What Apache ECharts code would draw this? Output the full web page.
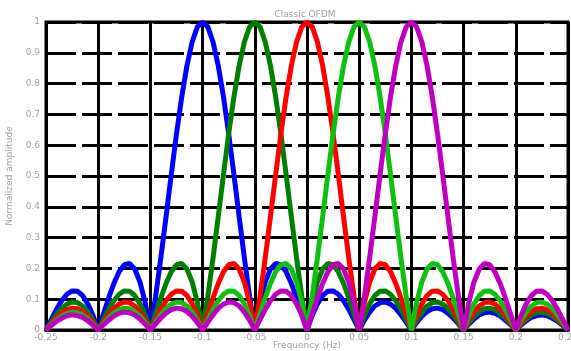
<!DOCTYPE html>
<html>
<head>
<meta charset="utf-8">
<script src="https://cdn.jsdelivr.net/npm/echarts@6/dist/echarts.min.js"></script>
<style>
  html, body { margin: 0; padding: 0; background: #fff; }
  #chart { width: 571px; height: 351px; }
</style>
</head>
<body>
<div id="chart"></div>
<script>
// frequency points, -0.25 .. 0.25 step 0.005
const freqs = [];
for (let i = 0; i <= 100; i++) freqs.push(+(-0.25 + i * 0.005).toFixed(3));

// subcarrier centred at -0.1
const blue = [
  0,0.034,0.067,0.095,0.116,0.127,0.126,0.112,0.085,0.047,
  0,0.052,0.104,0.151,0.189,0.212,0.216,0.198,0.156,0.089,
  0,0.109,0.234,0.368,0.505,0.637,0.757,0.858,0.935,0.984,
  1,
  0.984,0.935,0.858,0.757,0.637,0.505,0.368,0.234,0.109,0,
  0.089,0.156,0.198,0.216,0.212,0.189,0.151,0.104,0.052,0,
  0.047,0.085,0.112,0.126,0.127,0.116,0.095,0.067,0.034,0,
  0.032,0.058,0.078,0.089,0.091,0.084,0.070,0.049,0.025,0,
  0.024,0.045,0.060,0.069,0.071,0.066,0.055,0.039,0.020,0,
  0.019,0.036,0.049,0.056,0.058,0.054,0.045,0.032,0.017,0,
  0.016,0.030,0.041,0.047,0.049,0.046,0.038,0.028,0.014,0
];
// centred at -0.05
const darkGreen = [
  0,0.025,0.049,0.070,0.084,0.091,0.089,0.078,0.058,0.032,
  0,0.034,0.067,0.095,0.116,0.127,0.126,0.112,0.085,0.047,
  0,0.052,0.104,0.151,0.189,0.212,0.216,0.198,0.156,0.089,
  0,0.109,0.234,0.368,0.505,0.637,0.757,0.858,0.935,0.984,
  1,
  0.984,0.935,0.858,0.757,0.637,0.505,0.368,0.234,0.109,0,
  0.089,0.156,0.198,0.216,0.212,0.189,0.151,0.104,0.052,0,
  0.047,0.085,0.112,0.126,0.127,0.116,0.095,0.067,0.034,0,
  0.032,0.058,0.078,0.089,0.091,0.084,0.070,0.049,0.025,0,
  0.024,0.045,0.060,0.069,0.071,0.066,0.055,0.039,0.020,0,
  0.019,0.036,0.049,0.056,0.058,0.054,0.045,0.032,0.017,0
];
// centred at 0
const red = [
  0,0.020,0.039,0.055,0.066,0.071,0.069,0.060,0.045,0.024,
  0,0.025,0.049,0.070,0.084,0.091,0.089,0.078,0.058,0.032,
  0,0.034,0.067,0.095,0.116,0.127,0.126,0.112,0.085,0.047,
  0,0.052,0.104,0.151,0.189,0.212,0.216,0.198,0.156,0.089,
  0,0.109,0.234,0.368,0.505,0.637,0.757,0.858,0.935,0.984,
  1,
  0.984,0.935,0.858,0.757,0.637,0.505,0.368,0.234,0.109,0,
  0.089,0.156,0.198,0.216,0.212,0.189,0.151,0.104,0.052,0,
  0.047,0.085,0.112,0.126,0.127,0.116,0.095,0.067,0.034,0,
  0.032,0.058,0.078,0.089,0.091,0.084,0.070,0.049,0.025,0,
  0.024,0.045,0.060,0.069,0.071,0.066,0.055,0.039,0.020,0
];
// centred at 0.05
const lightGreen = [
  0,0.017,0.032,0.045,0.054,0.058,0.056,0.049,0.036,0.019,
  0,0.020,0.039,0.055,0.066,0.071,0.069,0.060,0.045,0.024,
  0,0.025,0.049,0.070,0.084,0.091,0.089,0.078,0.058,0.032,
  0,0.034,0.067,0.095,0.116,0.127,0.126,0.112,0.085,0.047,
  0,0.052,0.104,0.151,0.189,0.212,0.216,0.198,0.156,0.089,
  0,0.109,0.234,0.368,0.505,0.637,0.757,0.858,0.935,0.984,
  1,
  0.984,0.935,0.858,0.757,0.637,0.505,0.368,0.234,0.109,0,
  0.089,0.156,0.198,0.216,0.212,0.189,0.151,0.104,0.052,0,
  0.047,0.085,0.112,0.126,0.127,0.116,0.095,0.067,0.034,0,
  0.032,0.058,0.078,0.089,0.091,0.084,0.070,0.049,0.025,0
];
// centred at 0.1
const purple = [
  0,0.014,0.028,0.038,0.046,0.049,0.047,0.041,0.030,0.016,
  0,0.017,0.032,0.045,0.054,0.058,0.056,0.049,0.036,0.019,
  0,0.020,0.039,0.055,0.066,0.071,0.069,0.060,0.045,0.024,
  0,0.025,0.049,0.070,0.084,0.091,0.089,0.078,0.058,0.032,
  0,0.034,0.067,0.095,0.116,0.127,0.126,0.112,0.085,0.047,
  0,0.052,0.104,0.151,0.189,0.212,0.216,0.198,0.156,0.089,
  0,0.109,0.234,0.368,0.505,0.637,0.757,0.858,0.935,0.984,
  1,
  0.984,0.935,0.858,0.757,0.637,0.505,0.368,0.234,0.109,0,
  0.089,0.156,0.198,0.216,0.212,0.189,0.151,0.104,0.052,0,
  0.047,0.085,0.112,0.126,0.127,0.116,0.095,0.067,0.034,0
];

const seriesList = [
  { name: "blue", color: "#0000ff", data: blue },
  { name: "darkGreen", color: "#007f00", data: darkGreen },
  { name: "red", color: "#ff0000", data: red },
  { name: "lightGreen", color: "#10c010", data: lightGreen },
  { name: "purple", color: "#c000c0", data: purple },
];

const labelColor = "#a0a0a0";

const chart = echarts.init(document.getElementById("chart"));
chart.setOption({
  animation: false,
  title: {
    text: "Classic OFDM",
    left: 300,
    top: 5,
    textAlign: "center",
    textStyle: { color: labelColor, fontSize: 9, fontWeight: "normal", fontFamily: "DejaVu Sans" },
  },
  grid: {
    left: 46,
    right: 3,
    top: 22,
    bottom: 21,
    outerBoundsMode: "none",
    containLabel: false,
    show: true,
    borderColor: "#000",
    borderWidth: 3,
  },
  xAxis: {
    type: "value",
    min: -0.25,
    max: 0.25,
    interval: 0.05,
    name: "Frequency (Hz)",
    nameLocation: "middle",
    nameGap: 11,
    nameMoveOverlap: false,
    nameTextStyle: { color: labelColor, fontSize: 9, fontFamily: "DejaVu Sans", verticalAlign: "top" },
    axisLine: { lineStyle: { color: "#000", width: 3 } },
    axisTick: { show: false },
    axisLabel: {
      color: labelColor,
      fontSize: 9,
      margin: 3,
      fontFamily: "DejaVu Sans",
      formatter: (v) => String(+v.toFixed(2)),
    },
    splitLine: { lineStyle: { color: "#000", width: 3, type: "solid" } },
  },
  yAxis: {
    type: "value",
    min: 0,
    max: 1,
    interval: 0.1,
    name: "Normalized amplitude",
    nameLocation: "middle",
    nameGap: 32,
    nameMoveOverlap: false,
    nameTextStyle: { color: labelColor, fontSize: 9, fontFamily: "DejaVu Sans" },
    axisLine: { lineStyle: { color: "#000", width: 3 } },
    axisTick: { show: false },
    axisLabel: {
      color: labelColor,
      fontSize: 9,
      margin: 6,
      fontFamily: "DejaVu Sans",
      formatter: (v) => String(+v.toFixed(1)),
    },
    splitLine: { lineStyle: { color: "#000", width: 3, type: [30, 6] } },
  },
  series: seriesList.map((s) => ({
    name: s.name,
    type: "line",
    showSymbol: false,
    data: freqs.map((f, i) => [f, s.data[i]]),
    lineStyle: { color: s.color, width: 5 },
    itemStyle: { color: s.color },
  })),
});
</script>
</body>
</html>
